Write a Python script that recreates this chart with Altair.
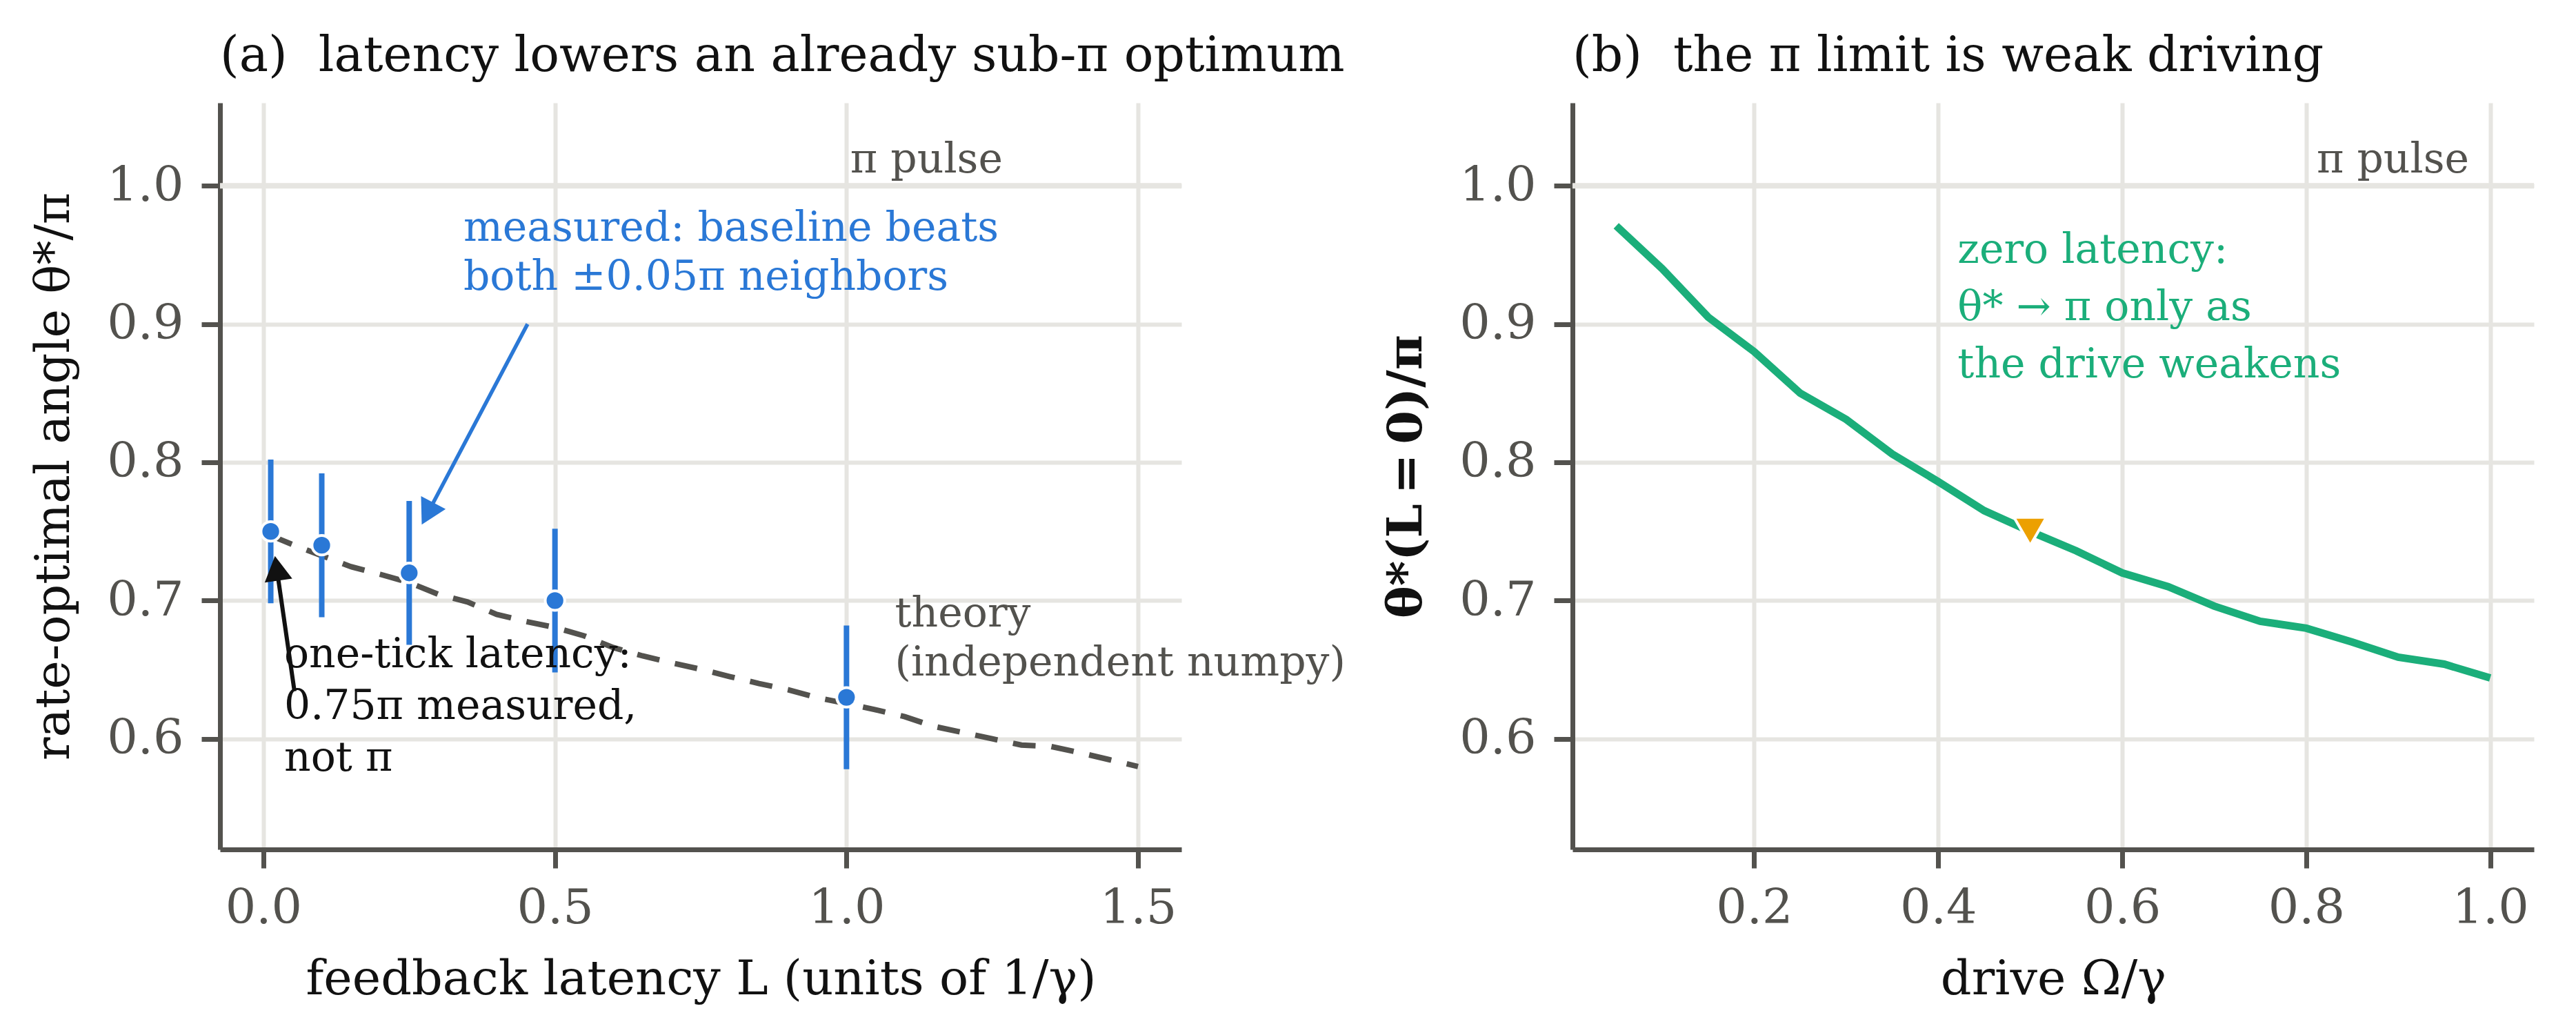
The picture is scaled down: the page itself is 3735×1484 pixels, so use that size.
import math

import altair as alt
import pandas as pd

FONT = "DejaVu Serif"
BLUE = "#2a78d6"
GREEN = "#1bae7a"
ORANGE = "#eca000"
GREY = "#53524e"
GRID = "#e6e5e1"
INK = "#111111"

W, H = 1394, 1082  # plot area of each panel

# (a) measured rate-optimal angle vs feedback latency
latency = [0.0125, 0.1, 0.25, 0.5, 1.0]
theta_meas = [0.75, 0.74, 0.72, 0.70, 0.63]
theta_err = [0.052, 0.052, 0.052, 0.052, 0.052]

# (a) theory curve
latency_th = [0.0125, 0.05, 0.1, 0.15, 0.2, 0.25, 0.3, 0.35, 0.4, 0.45, 0.5,
              0.55, 0.6, 0.65, 0.7, 0.75, 0.8, 0.85, 0.9, 0.95, 1.0,
              1.05, 1.1, 1.15, 1.2, 1.25, 1.3, 1.35, 1.4, 1.45, 1.5]
theta_th = [0.747, 0.7405, 0.7325, 0.7245, 0.719, 0.713, 0.7045, 0.699, 0.690, 0.6849, 0.6805,
            0.6745, 0.666, 0.660, 0.655, 0.6503, 0.645, 0.640, 0.6355, 0.6297, 0.6255,
            0.621, 0.616, 0.609, 0.6045, 0.600, 0.5955, 0.5945, 0.590, 0.585, 0.580]

# (b) zero-latency optimum vs drive strength
drive = [0.05, 0.1, 0.15, 0.2, 0.25, 0.3, 0.35, 0.4, 0.45, 0.5,
         0.55, 0.6, 0.65, 0.7, 0.75, 0.8, 0.85, 0.9, 0.95, 1.0]
theta_drive = [0.971, 0.940, 0.905, 0.880, 0.850, 0.831, 0.806, 0.786, 0.765, 0.750,
               0.736, 0.720, 0.710, 0.696, 0.685, 0.680, 0.670, 0.659, 0.654, 0.644]
marked_drive = [0.5]
marked_theta = [0.75]

# axes
XA_DOM = [-0.0745, 1.5745]
XB_DOM = [0.0025, 1.0475]
Y_DOM = [0.52, 1.06]
XA_TICKS = [0.0, 0.5, 1.0, 1.5]
XB_TICKS = [0.2, 0.4, 0.6, 0.8, 1.0]
Y_TICKS = [0.6, 0.7, 0.8, 0.9, 1.0]

# annotations (data coordinates)
pi_level = 1.0
pi_label_a = [1.268]
pi_label_b = [0.977]
blue_note = ["measured: baseline beats", "both ±0.05π neighbors"]
blue_note_xy = [0.343, 0.960]
blue_arrow = [0.453, 0.900, 0.2715, 0.755]
theory_note = ["theory", "(independent numpy)"]
theory_note_xy = [1.083, 0.681]
black_note = ["one-tick latency:", "0.75π measured,", "not π"]
black_note_xy = [0.0355, 0.652]
black_arrow = [0.0532, 0.6344, 0.0197, 0.7322]
green_note = ["zero latency:", "θ* → π only as", "the drive weakens"]
green_note_xy = [0.421, 0.944]

HEAD = "M0,0L0.56,1L-0.56,1Z"
HEAD_LEN = 36


def x_enc(field, dom, ticks, title):
    return alt.X(f"{field}:Q", scale=alt.Scale(domain=dom, nice=False, zero=False),
                 axis=alt.Axis(values=ticks, format=".1f", title=title, labelPadding=24,
                               titlePadding=34, titleFontWeight="normal"))


def y_enc(field, title, bold=False):
    return alt.Y(f"{field}:Q", scale=alt.Scale(domain=Y_DOM, nice=False, zero=False),
                 axis=alt.Axis(values=Y_TICKS, format=".1f", title=title, labelPadding=26,
                               titlePadding=40,
                               titleFontWeight="bold" if bold else "normal"))


def px(x, y, xdom):
    return ((x - xdom[0]) / (xdom[1] - xdom[0]) * W,
            (1 - (y - Y_DOM[0]) / (Y_DOM[1] - Y_DOM[0])) * H)


def arrow(coords, color, width, xdom, xe, ye):
    x0, y0, x1, y1 = coords
    p0, p1 = px(x0, y0, xdom), px(x1, y1, xdom)
    dx, dy = p1[0] - p0[0], p1[1] - p0[1]
    length = math.hypot(dx, dy)
    angle = math.degrees(math.atan2(dx, -dy)) % 360
    f = 1 - (HEAD_LEN - 4) / length
    shaft = pd.DataFrame({"x": [x0], "y": [y0],
                          "x2": [x0 + (x1 - x0) * f], "y2": [y0 + (y1 - y0) * f]})
    head = pd.DataFrame({"x": [x1], "y": [y1]})
    line = alt.Chart(shaft).mark_rule(color=color, strokeWidth=width).encode(
        x=xe("x"), y=ye("y"), x2="x2", y2="y2")
    tip = alt.Chart(head).mark_point(shape=HEAD, filled=True, fill=color, opacity=1,
                                     strokeWidth=0, size=(2 * HEAD_LEN) ** 2,
                                     angle=angle).encode(x=xe("x"), y=ye("y"))
    return [line, tip]


def note(lines, xy, color, xe, ye, line_height, align="left"):
    df = pd.DataFrame({"x": [xy[0]], "y": [xy[1]]})
    return alt.Chart(df).mark_text(text=lines, align=align, baseline="alphabetic",
                                   font=FONT, fontSize=60, color=color,
                                   lineHeight=line_height).encode(x=xe("x"), y=ye("y"))


def pi_marks(label_x, xe, ye):
    ref = pd.DataFrame({"y": [pi_level]})
    rule = alt.Chart(ref).mark_rule(color=GRID, strokeWidth=8).encode(y=ye("y"))
    lab = alt.Chart(pd.DataFrame({"x": label_x, "y": [pi_level]})).mark_text(
        text="π pulse", align="right", baseline="alphabetic", dy=-19,
        font=FONT, fontSize=60, color=GREY).encode(x=xe("x"), y=ye("y"))
    return [rule, lab]


# ---------- panel (a)
xa = lambda f: x_enc(f, XA_DOM, XA_TICKS, "feedback latency L (units of 1/γ)")
ya = lambda f: y_enc(f, "rate-optimal angle θ*/π")

meas = pd.DataFrame({"L": latency, "theta": theta_meas,
                     "lo": [t - e for t, e in zip(theta_meas, theta_err)],
                     "hi": [t + e for t, e in zip(theta_meas, theta_err)]})
theory = pd.DataFrame({"L": latency_th, "theta": theta_th})

theory_line = alt.Chart(theory).mark_line(color=GREY, strokeWidth=8,
                                          strokeDash=[33, 23]).encode(x=xa("L"), y=ya("theta"))
errbars = alt.Chart(meas).mark_rule(color=BLUE, strokeWidth=8).encode(
    x=xa("L"), y=ya("lo"), y2="hi")
points = alt.Chart(meas).mark_circle(size=800, fill=BLUE, stroke="white",
                                     strokeWidth=4, opacity=1).encode(x=xa("L"), y=ya("theta"))

layers_a = pi_marks(pi_label_a, xa, ya) + [theory_line, errbars, points]
layers_a += [note(blue_note, blue_note_xy, BLUE, xa, ya, 71)]
layers_a += arrow(blue_arrow, BLUE, 5.5, XA_DOM, xa, ya)
layers_a += [note(theory_note, theory_note_xy, GREY, xa, ya, 71)]
layers_a += [note(black_note, black_note_xy, INK, xa, ya, 75)]
layers_a += arrow(black_arrow, INK, 6, XA_DOM, xa, ya)

title_kw = dict(anchor="start", frame="group", font=FONT, fontSize=71, fontWeight="normal",
                color=INK, baseline="alphabetic", offset=-25)

panel_a = alt.layer(*layers_a).properties(
    width=W, height=H,
    title=alt.TitleParams("(a)\u00a0 latency lowers an already sub-π optimum", **title_kw))

# ---------- panel (b)
xb = lambda f: x_enc(f, XB_DOM, XB_TICKS, "drive Ω/γ")
yb = lambda f: y_enc(f, "θ*(L\u2009=\u20090)/π", bold=True)

curve = pd.DataFrame({"drive": drive, "theta": theta_drive})
marked = pd.DataFrame({"drive": marked_drive, "theta": marked_theta})

drive_line = alt.Chart(curve).mark_line(color=GREEN, strokeWidth=11).encode(
    x=xb("drive"), y=yb("theta"))
marker = alt.Chart(marked).mark_point(shape="triangle-down", filled=True, fill=ORANGE,
                                      stroke="white", strokeWidth=4, size=2200,
                                      opacity=1).encode(x=xb("drive"), y=yb("theta"))

layers_b = pi_marks(pi_label_b, xb, yb) + [drive_line, marker,
                                           note(green_note, green_note_xy, GREEN, xb, yb, 83)]

panel_b = alt.layer(*layers_b).properties(
    width=W, height=H,
    title=alt.TitleParams("(b)\u00a0 the π limit is weak driving", **title_kw))

chart = alt.hconcat(panel_a, panel_b, spacing=567, bounds="flush").properties(
    padding={"left": 35, "top": 38, "right": 5, "bottom": 5}
).configure_view(stroke=None).configure_axis(
    labelFont=FONT, labelFontSize=70, labelColor=GREY,
    titleFont=FONT, titleFontSize=70, titleColor=INK, titleFontWeight="normal",
    domainColor=GREY, domainWidth=7, tickColor=GREY, tickWidth=7, tickSize=27,
    gridColor=GRID, gridWidth=6,
).configure_text(font=FONT)

chart.save("out.html", embed_options={"renderer": "svg", "actions": False})
